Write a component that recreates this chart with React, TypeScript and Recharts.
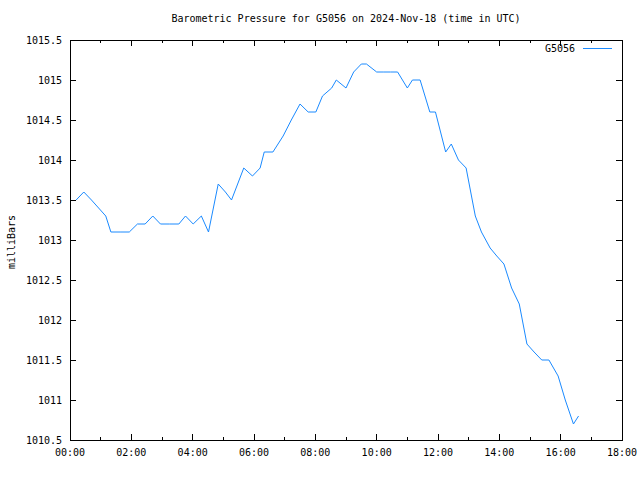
import React from 'react';
import { LineChart, Line, XAxis, YAxis, ReferenceArea, Legend } from 'recharts';

const TIMES = ['00:12','00:27','00:42','00:56','01:10','01:20','01:38','01:56','02:12','02:27','02:42','02:57','03:15','03:33','03:46','04:01','04:17','04:31','04:50','05:04','05:16','05:28','05:40','05:57','06:12','06:20','06:37','06:47','06:57','07:13','07:30','07:46','08:01','08:14','08:32','08:41','09:00','09:15','09:30','09:40','10:00','10:14','10:27','10:41','11:00','11:10','11:25','11:44','11:55','12:15','12:26','12:40','12:55','13:13','13:25','13:42','13:55','14:09','14:24','14:39','14:54','15:08','15:23','15:37','15:55','16:09','16:25','16:35'];

const PRESSURE = [1013.5,1013.6,1013.5,1013.4,1013.3,1013.1,1013.1,1013.1,1013.2,1013.2,1013.3,1013.2,1013.2,1013.2,1013.3,1013.2,1013.3,1013.1,1013.7,1013.6,1013.5,1013.7,1013.9,1013.8,1013.9,1014.1,1014.1,1014.2,1014.3,1014.5,1014.7,1014.6,1014.6,1014.8,1014.9,1015.0,1014.9,1015.1,1015.2,1015.2,1015.1,1015.1,1015.1,1015.1,1014.9,1015.0,1015.0,1014.6,1014.6,1014.1,1014.2,1014.0,1013.9,1013.3,1013.1,1012.9,1012.8,1012.7,1012.4,1012.2,1011.7,1011.6,1011.5,1011.5,1011.3,1011.0,1010.7,1010.8];

const X_TICKS = [0,60,120,180,240,300,360,420,480,540,600,660,720,780,840,900,960,1020,1080];
const Y_TICKS = [1010.5,1011,1011.5,1012,1012.5,1013,1013.5,1014,1014.5,1015,1015.5];

const SERIES_NAME = 'G5056';
const TITLE = 'Barometric Pressure for G5056 on 2024-Nov-18 (time in UTC)';
const Y_LABEL = 'milliBars';

const LINE_COLOR = '#1a8aff';
const FONT = '"DejaVu Sans Mono", "Liberation Mono", monospace';

const PLOT = { left: 70, right: 622, top: 40, bottom: 440 };

const toMinutes = (s: string) => {
  const [h, m] = s.split(':').map(Number);
  return h * 60 + m;
};
const fmtTime = (m: number) => {
  const h = Math.floor(m / 60);
  const mm = m % 60;
  return `${String(h).padStart(2, '0')}:${String(mm).padStart(2, '0')}`;
};

const data = TIMES.map((t, i) => ({ t: toMinutes(t), p: PRESSURE[i] }));

function XTick(props: any) {
  const { x, payload } = props;
  const v = payload.value as number;
  const major = v % 120 === 0;
  const len = major ? 6 : 3;
  return (
    <g>
      <line x1={x} x2={x} y1={PLOT.bottom} y2={PLOT.bottom - len} stroke="#000" shapeRendering="crispEdges" />
      <line x1={x} x2={x} y1={PLOT.top} y2={PLOT.top + len} stroke="#000" shapeRendering="crispEdges" />
      {major && (
        <text x={x} y={PLOT.bottom + 16} textAnchor="middle" fontFamily={FONT} fontSize={10} fill="#000">
          {fmtTime(v)}
        </text>
      )}
    </g>
  );
}

function YTick(props: any) {
  const { y, payload } = props;
  const v = payload.value as number;
  return (
    <g>
      <line x1={PLOT.left} x2={PLOT.left + 6} y1={y} y2={y} stroke="#000" shapeRendering="crispEdges" />
      <line x1={PLOT.right} x2={PLOT.right - 6} y1={y} y2={y} stroke="#000" shapeRendering="crispEdges" />
      <text x={PLOT.left - 8} y={y} dy={3.5} textAnchor="end" fontFamily={FONT} fontSize={10} fill="#000">
        {String(v)}
      </text>
    </g>
  );
}

function LegendContent() {
  return (
    <div style={{ display: 'flex', alignItems: 'center', justifyContent: 'flex-end', fontFamily: FONT, fontSize: 10, lineHeight: '12px', color: '#000' }}>
      <span>{SERIES_NAME}</span>
      <svg width={29} height={12} style={{ marginLeft: 8, display: 'block' }}>
        <line x1={0} x2={29} y1={5.5} y2={5.5} stroke={LINE_COLOR} strokeWidth={1} />
      </svg>
    </div>
  );
}

export default function App() {
  return (
    <div style={{ position: 'absolute', left: 0, top: 0, width: 640, height: 480, background: '#fff' }}>
      <LineChart
        width={640}
        height={480}
        data={data}
        margin={{ top: 40, right: 18, bottom: 10, left: 10 }}
      >
        <XAxis
          dataKey="t"
          type="number"
          domain={[0, 1080]}
          ticks={X_TICKS}
          interval={0}
          axisLine={false}
          tickLine={false}
          tick={<XTick />}
          height={30}
        />
        <YAxis
          type="number"
          domain={[1010.5, 1015.5]}
          ticks={Y_TICKS}
          interval={0}
          allowDataOverflow
          axisLine={false}
          tickLine={false}
          tick={<YTick />}
          width={60}
        />
        <ReferenceArea
          x1={0}
          x2={1080}
          y1={1010.5}
          y2={1015.5}
          fill="none"
          fillOpacity={0}
          stroke="#000"
          strokeOpacity={1}
          shapeRendering="crispEdges"
          ifOverflow="visible"
        />
        <Legend
          layout="horizontal"
          verticalAlign="middle"
          align="center"
          wrapperStyle={{ position: 'absolute', top: 43, left: 530, width: 82, height: 12 }}
          content={<LegendContent />}
        />
        <Line
          type="linear"
          dataKey="p"
          name={SERIES_NAME}
          stroke={LINE_COLOR}
          strokeWidth={1}
          dot={false}
          activeDot={false}
          isAnimationActive={false}
        />
      </LineChart>
      <div style={{ position: 'absolute', top: 13, left: 0, width: 692, textAlign: 'center', fontFamily: FONT, fontSize: 10, lineHeight: '12px', color: '#000', whiteSpace: 'nowrap' }}>
        {TITLE}
      </div>
      <div style={{ position: 'absolute', left: 12, top: 242, transform: 'translate(-50%, -50%) rotate(-90deg)', fontFamily: FONT, fontSize: 10, lineHeight: '12px', color: '#000', whiteSpace: 'nowrap' }}>
        {Y_LABEL}
      </div>
    </div>
  );
}
